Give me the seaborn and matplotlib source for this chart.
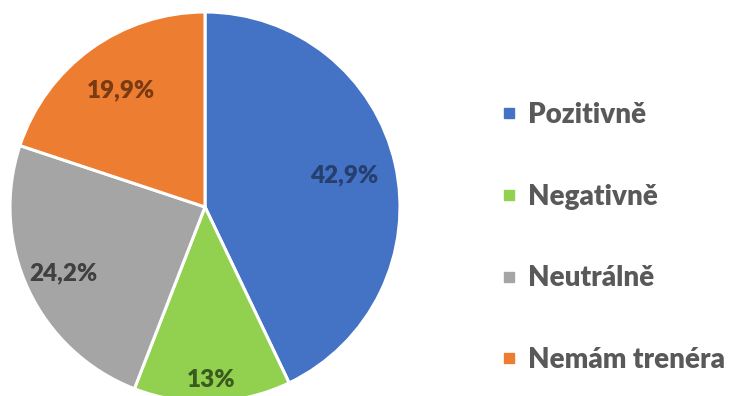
import numpy as np
import matplotlib
matplotlib.use("Agg")
import matplotlib.pyplot as plt
from matplotlib.lines import Line2D
import seaborn as sns

# Survey answers and their shares (%)
categories = ["Pozitivně", "Negativně", "Neutrálně", "Nemám trenéra"]
shares = [42.9, 13.0, 24.2, 19.9]

slice_colors = ["#4472C4", "#92D050", "#A5A5A5", "#ED7D31"]
label_colors = ["#263F6E", "#3A5A1E", "#404040", "#7A3A12"]
# radial placement of each percentage label (fraction of radius)
label_radius = [0.73, 0.89, 0.80, 0.74]

sns.set_theme(style="white")
plt.rcParams["font.family"] = ["Lato", "DejaVu Sans"]

fig = plt.figure(figsize=(7.41, 3.96), dpi=100)
fig.patch.set_facecolor("white")

ax = fig.add_axes([10 / 741, -6 / 396, 390 / 741, 390 / 396])
wedges, _ = ax.pie(
    shares,
    colors=slice_colors,
    startangle=90,
    counterclock=False,
    radius=1.0,
    wedgeprops=dict(edgecolor="white", linewidth=2.2),
)
ax.set_xlim(-1, 1)
ax.set_ylim(-1, 1)
ax.set_aspect("equal")
ax.axis("off")

for w, v, r, c in zip(wedges, shares, label_radius, label_colors):
    ang = np.deg2rad((w.theta1 + w.theta2) / 2)
    txt = f"{v:g}".replace(".", ",") + "%"
    ax.text(r * np.cos(ang), r * np.sin(ang), txt, ha="center", va="center",
            fontsize=17.5, fontweight="heavy", color=c)

handles = [Line2D([0], [0], marker="s", linestyle="none", markersize=7.5,
                  markerfacecolor=c, markeredgecolor=c) for c in slice_colors]
leg = fig.legend(
    handles, categories,
    loc="upper left", bbox_to_anchor=(491 / 741, 1 - 91 / 396),
    frameon=False, fontsize=20, labelspacing=2.0,
    handlelength=0.5, handletextpad=0.45, borderaxespad=0,
)
for t in leg.get_texts():
    t.set_color("#595959")
    t.set_fontweight("heavy")

fig.savefig("out.png", dpi=100, facecolor="white")
